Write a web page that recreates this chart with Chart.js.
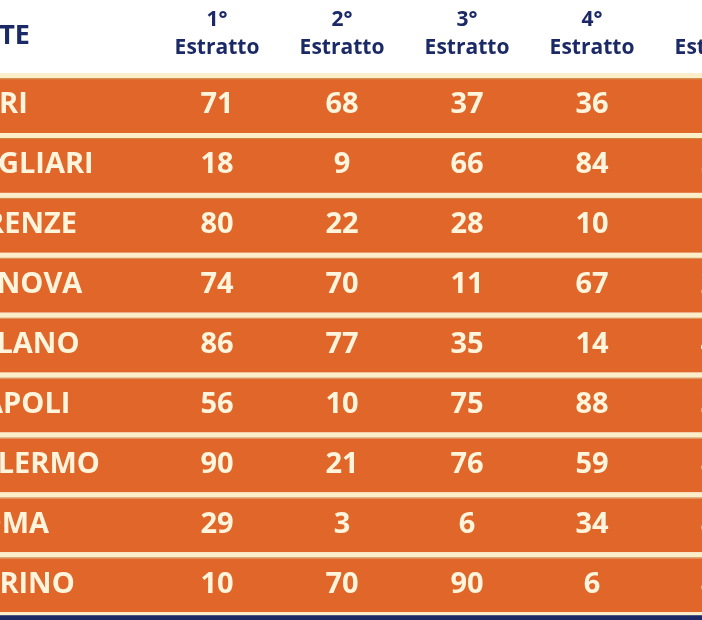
<!DOCTYPE html>
<html>
<head>
<meta charset="utf-8">
<script src="https://cdn.jsdelivr.net/npm/chart.js@4"></script>
<style>
  html, body { margin: 0; padding: 0; background: #fff; }
  #wrap { width: 702px; height: 620px; }
</style>
</head>
<body>
<div id="wrap"><canvas id="tabella"></canvas></div>
<script>
// ruote e estrazioni
const ruote = ["BARI", "CAGLIARI", "FIRENZE", "GENOVA", "MILANO", "NAPOLI", "PALERMO", "ROMA", "TORINO"];
const colonne = ["1°", "2°", "3°", "4°", "5°"];
const estratto1 = [71, 18, 80, 74, 86, 56, 90, 29, 10];
const estratto2 = [68, 9, 22, 70, 77, 10, 21, 3, 70];
const estratto3 = [37, 66, 28, 11, 35, 75, 76, 6, 90];
const estratto4 = [36, 84, 10, 67, 14, 88, 59, 34, 6];
const estratto5 = [17, 53, 7, 25, 45, 30, 81, 85, 82];

const estratti = [estratto1, estratto2, estratto3, estratto4, estratto5];

// una cella per ogni numero, colonna i+1, riga r
const celle = [];
estratti.forEach((serie, i) => {
    serie.forEach((v, r) => celle.push({ x: i + 1, y: r, v: v }));
});

const NAVY = "#1b2a66";
const ORANGE = "#e0662a";
const CREAM = "#fbeec8";

/**
 * disegna fasce, intestazioni e numeri usando le scale del grafico
 */
const tabellaPlugin = {
    id: "tabella",
    beforeDatasetsDraw(chart) {
        const { ctx, scales: { x, y } } = chart;
        ctx.save();
        ctx.fillStyle = "#fff";
        ctx.fillRect(0, 0, chart.width, chart.height);

        // fasce arancioni con separatori crema
        ruote.forEach((_, r) => {
            const top = y.getPixelForValue(r - 0.5);
            const bot = y.getPixelForValue(r + 0.5);
            ctx.fillStyle = CREAM;
            ctx.fillRect(0, top, chart.width, 5);
            ctx.fillStyle = "#c9873f";
            ctx.fillRect(0, top + 5, chart.width, 1);
            ctx.fillStyle = ORANGE;
            ctx.fillRect(0, top + 6, chart.width, bot - top - 6);
        });
        const fine = y.getPixelForValue(ruote.length - 0.5);
        ctx.fillStyle = CREAM;
        ctx.fillRect(0, fine, chart.width, 3);
        ctx.fillStyle = NAVY;
        ctx.fillRect(0, fine + 3, chart.width, chart.height);

        // intestazioni
        ctx.fillStyle = NAVY;
        ctx.textBaseline = "middle";
        ctx.textAlign = "left";
        ctx.font = "bold 27px 'Open Sans'";
        ctx.fillText("RUOTE", x.getPixelForValue(-1.22), y.getPixelForValue(-1.12));
        ctx.textAlign = "center";
        ctx.font = "bold 21px 'Open Sans'";
        colonne.forEach((c, i) => {
            const px = x.getPixelForValue(i + 1);
            ctx.fillText(c, px, y.getPixelForValue(-1.38));
            ctx.fillText("Estratto", px, y.getPixelForValue(-0.92));
        });

        // nomi ruote
        ctx.fillStyle = "#fff5dc";
        ctx.font = "bold 29px 'Open Sans'";
        ctx.textAlign = "left";
        ruote.forEach((n, r) => {
            ctx.fillText(n, x.getPixelForValue(-1.06), y.getPixelForValue(r) + 2);
        });

        // numeri
        ctx.textAlign = "center";
        celle.forEach(c => {
            ctx.fillText(String(c.v), x.getPixelForValue(c.x), y.getPixelForValue(c.y) + 2);
        });
        ctx.restore();
    }
};

new Chart(document.getElementById("tabella"), {
    type: "scatter",
    data: {
        datasets: [{
            data: celle,
            pointRadius: 0
        }]
    },
    options: {
        responsive: true,
        maintainAspectRatio: false,
        animation: false,
        layout: { padding: 0 },
        plugins: { legend: { display: false }, tooltip: { enabled: false } },
        scales: {
            x: { type: "linear", display: false, min: -0.736, max: 4.88 },
            y: { type: "linear", display: false, reverse: true, min: -1.72, max: 8.63 }
        }
    },
    plugins: [tabellaPlugin]
});
</script>
</body>
</html>
